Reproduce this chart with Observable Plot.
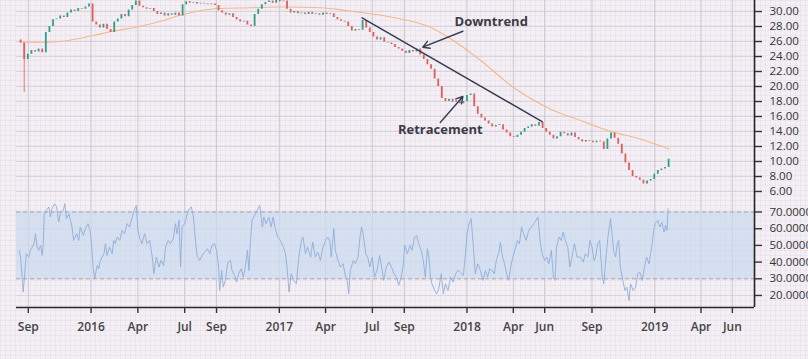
<!DOCTYPE html>
<html><head><meta charset="utf-8">
<script src="https://cdn.jsdelivr.net/npm/d3@7"></script>
<script src="https://cdn.jsdelivr.net/npm/@observablehq/plot@0.6"></script>
<style>
body{margin:0;}
#wrap{position:relative;width:808px;height:359px;overflow:hidden;background-color:#f3eff4;
background-image:linear-gradient(to right, rgba(110,90,120,0.05) 1px, transparent 1px),linear-gradient(to bottom, rgba(110,90,120,0.05) 1px, transparent 1px);
background-size:5px 5px;font-family:"Open Sans",sans-serif;}
#price,#rsi{position:absolute;left:0;}
#price{top:0;} #rsi{top:200px;}
</style></head>
<body><div id="wrap"><div id="price"></div><div id="rsi"></div></div>
<script>
// ---------- data ----------
const xStart = "2015-08-09", xEnd = "2019-07-14";
const tickDates = ["2015-09-01","2016-01-01","2016-04-01","2016-07-01","2016-09-01","2017-01-01","2017-04-01","2017-07-01","2017-09-01","2018-01-01","2018-04-01","2018-06-01","2018-09-01","2019-01-01","2019-04-01","2019-06-01"];
const tickLabels = ["Sep","2016","Apr","Jul","Sep","2017","Apr","Jul","Sep","2018","Apr","Jun","Sep","2019","Apr","Jun"];
const priceTicks = [6,8,10,12,14,16,18,20,22,24,26,28,30,32];
const rsiTicks = [20,30,40,50,60,70];

// weekly closes, starting week of 2015-08-17
const priceStart = "2015-08-17";
const priceFirstOpen = 26.2;
const priceCloses = [
25.8,23.6,24.3,24.8,24.6,25.0,24.5,27.2,28.0,28.9,29.0,29.4,29.2,29.8,30.2,30.0,30.4,30.3,30.6,31.0,
28.6,28.2,27.8,28.3,27.6,27.2,28.6,29.0,29.6,29.3,30.2,30.8,31.4,30.7,30.5,30.3,30.4,30.0,29.6,29.8,
29.4,29.7,29.5,29.8,29.4,30.9,31.3,31.1,31.2,31.0,31.1,31.0,30.9,31.0,30.8,30.1,29.8,29.5,29.7,29.2,
28.9,28.6,28.7,28.2,28.0,29.6,30.3,30.9,31.2,31.4,31.1,31.5,31.3,31.4,30.3,29.8,30.0,29.7,29.8,29.6,
29.9,29.6,29.7,29.5,29.8,29.6,29.7,29.2,28.9,28.7,28.6,28.0,27.4,27.6,27.5,28.8,27.8,27.2,26.6,26.2,
26.5,25.9,25.8,25.6,25.2,25.0,24.7,24.4,24.8,24.6,25.0,24.2,23.6,22.9,22.3,21.0,20.0,18.4,18.0,18.3,
17.9,18.1,17.7,18.0,18.8,19.0,17.3,16.3,15.8,15.4,15.0,14.6,14.8,14.9,14.2,13.8,13.3,13.2,13.5,13.9,
14.4,14.6,14.9,14.7,15.2,14.4,13.9,13.5,13.0,13.3,13.9,13.7,13.4,13.8,13.2,12.9,12.6,12.8,12.7,12.5,
12.7,12.6,11.6,13.0,13.8,13.1,12.3,11.0,9.8,8.8,8.0,7.8,7.5,7.0,7.4,7.6,8.3,8.8,9.0,9.2,10.3];
const priceWicks = [{date:"2015-08-24", low:19.2, high:25.6}];

// moving average
const maDates = ["2015-08-17","2015-10-04","2015-11-02","2016-01-05","2016-02-07","2016-04-11","2016-05-15","2016-06-22","2016-07-31","2016-09-02","2016-11-06","2017-01-09","2017-03-22","2017-05-14","2017-08-19","2017-10-22","2017-12-06","2018-01-27","2018-04-01","2018-06-06","2018-06-18","2018-08-09","2018-09-04","2018-10-13","2018-11-29","2018-12-30","2019-01-28"];
const maValues = [25.9,25.9,26.0,26.8,27.3,28.1,28.7,29.5,30.1,30.4,30.5,30.6,30.5,30.1,29.1,27.9,26.1,23.5,19.9,17.2,16.8,15.5,14.8,13.9,13.1,12.4,11.7];

// RSI: [days after 2015-08-09, value]
const rsiBase = "2015-08-09";
const rsiPoints = [[5,47],[8,43],[11,31],[13,22],[16,33],[19,45],[24,43],[27,47],[34,51],[37,57],[40,49],[43,47],[47,50],[50,44],[52,51],[54,68],[58,71],[63,73],[66,67],[69,72],[74,75],[78,73],[82,64],[86,70],[91,71],[94,75],[97,66],[102,69],[105,65],[108,61],[111,53],[117,57],[121,53],[124,61],[130,56],[134,60],[139,63],[143,59],[146,51],[149,37],[152,30],[157,38],[160,36],[163,41],[170,45],[173,51],[176,44],[181,49],[186,45],[189,53],[192,51],[196,55],[201,53],[205,59],[210,57],[215,63],[220,61],[225,67],[229,71],[233,74],[236,59],[240,54],[244,51],[249,57],[254,51],[259,53],[264,43],[267,33],[272,43],[277,37],[281,41],[286,38],[290,49],[295,53],[299,51],[305,54],[309,63],[312,57],[316,65],[319,37],[322,61],[327,63],[332,69],[336,72],[340,73],[344,67],[348,53],[351,44],[356,41],[361,44],[366,46],[371,48],[376,45],[380,50],[385,51],[389,47],[393,37],[395,23],[399,35],[402,25],[406,29],[411,40],[416,41],[419,35],[424,32],[428,28],[432,33],[437,36],[441,31],[445,37],[449,47],[452,35],[455,53],[458,65],[463,68],[468,71],[473,74],[478,61],[481,67],[485,63],[491,67],[495,61],[499,67],[504,59],[508,55],[513,53],[519,49],[523,45],[526,37],[530,22],[534,33],[539,29],[544,27],[549,43],[554,53],[557,55],[562,45],[566,49],[572,43],[576,52],[581,43],[586,46],[591,41],[596,49],[601,53],[605,55],[609,53],[612,43],[617,60],[620,47],[625,41],[630,37],[635,39],[640,31],[643,29],[646,21],[649,35],[655,41],[659,39],[664,43],[668,55],[671,61],[674,57],[679,45],[683,43],[687,37],[692,43],[696,31],[701,35],[706,44],[710,37],[714,29],[719,37],[724,40],[729,37],[734,33],[739,31],[743,26],[748,31],[752,38],[755,50],[760,45],[765,50],[769,47],[774,55],[778,56],[782,51],[787,47],[791,41],[795,31],[799,48],[802,43],[805,31],[808,27],[813,23],[817,21],[821,24],[826,33],[830,21],[834,27],[839,23],[844,31],[849,28],[854,33],[858,35],[863,34],[869,32],[873,45],[876,57],[880,63],[884,66],[888,51],[892,33],[897,39],[902,35],[907,29],[912,35],[916,31],[920,36],[925,35],[929,33],[933,41],[938,46],[941,52],[945,43],[949,39],[953,33],[957,29],[961,37],[965,43],[969,47],[974,53],[978,51],[982,61],[986,57],[991,53],[996,59],[1001,61],[1006,63],[1010,65],[1014,67],[1018,53],[1022,45],[1027,41],[1031,43],[1035,39],[1040,47],[1044,31],[1047,29],[1050,49],[1055,55],[1059,53],[1063,58],[1067,53],[1072,49],[1076,37],[1080,43],[1085,51],[1090,43],[1097,43],[1102,40],[1106,45],[1111,43],[1115,53],[1119,49],[1123,41],[1126,43],[1130,51],[1134,53],[1139,31],[1142,27],[1145,39],[1150,55],[1155,66],[1158,57],[1161,47],[1165,43],[1168,51],[1171,53],[1174,37],[1179,29],[1183,23],[1187,25],[1191,17],[1194,27],[1199,23],[1204,25],[1208,33],[1212,34],[1217,29],[1221,37],[1225,43],[1230,39],[1233,45],[1236,51],[1239,59],[1242,63],[1247,65],[1251,61],[1255,64],[1259,58],[1262,62],[1265,59],[1267,72]];

// annotations
const trendLine = [{date:"2017-06-11", value:29.16},{date:"2018-05-27", value:15.33}];
const arrowData = [
  {from:"2017-12-24", fromValue:27.37, to:"2017-10-07", toValue:25.24},
  {from:"2017-11-10", fromValue:15.2, to:"2017-12-24", toValue:18.67}
];
const labelData = [
  {date:"2018-02-17", value:28.57, text:"Downtrend"},
  {date:"2017-11-10", value:14.23, text:"Retracement"}
];

// ---------- build ----------
const D = s => new Date(s + "T00:00:00Z");
const xDomain = [D(xStart), D(xEnd)];
const ticksX = tickDates.map(D);
const labelMap = new Map(ticksX.map((d,i)=>[+d, tickLabels[i]]));
const weeks = priceCloses.map((c,i)=>({
  date: d3.utcDay.offset(D(priceStart), 7*i),
  open: i ? priceCloses[i-1] : priceFirstOpen,
  close: c
}));
const ma = maDates.map((d,i)=>({date:D(d), value:maValues[i]}));
const rsi = rsiPoints.map(([d,v])=>({date:d3.utcDay.offset(D(rsiBase), d), value:v}));
const green = "#2f9e86", red = "#dc5f5c";
const font = "'Open Sans', sans-serif";
const priceDomain = [4.8, 31.47];
const rsiDomain = [12.8, 76.9];

const price = Plot.plot({
  width: 808, height: 200,
  marginLeft: 16, marginRight: 54, marginTop: 0, marginBottom: 0,
  style: {background: "transparent", overflow: "visible", fontFamily: font},
  x: {type: "utc", domain: xDomain, axis: null},
  y: {domain: priceDomain, axis: null},
  marks: [
    Plot.gridY(priceTicks.filter(t => t <= 30), {stroke: "#dad4dd", strokeOpacity: 1}),
    Plot.gridX(ticksX, {stroke: "#cdc7d0", strokeOpacity: 1}),
    Plot.line(ma, {x: "date", y: "value", stroke: "#f3b88c", strokeWidth: 1.1, curve: "monotone-x"}),
    Plot.ruleX(priceWicks, {x: d => D(d.date), y1: "low", y2: "high", stroke: red, strokeWidth: 0.8}),
    Plot.ruleX(weeks.filter(d => d.close >= d.open), {x: "date", y1: "open", y2: "close", stroke: green, strokeWidth: 1.8, clip: true}),
    Plot.ruleX(weeks.filter(d => d.close < d.open), {x: "date", y1: "open", y2: "close", stroke: red, strokeWidth: 1.8, clip: true}),
    Plot.line(trendLine, {x: d => D(d.date), y: "value", stroke: "#353d55", strokeWidth: 1.5}),
    Plot.arrow(arrowData, {x1: d => D(d.from), y1: "fromValue", x2: d => D(d.to), y2: "toValue", stroke: "#353d55", strokeWidth: 1.4, headLength: 8}),
    Plot.text(labelData, {x: d => D(d.date), y: "value", text: "text", fontSize: 13, fontWeight: 700, fill: "#3b3b47", fontFamily: font}),
    Plot.ruleX([xDomain[1]], {stroke: "#262626", strokeWidth: 1.6}),
    Plot.axisY(priceTicks, {anchor: "right", tickFormat: d3.format(".2f"), tickSize: 7, tickPadding: 8, fontSize: 11.5, color: "#333", strokeWidth: 1.4, fontFamily: font})
  ]
});
document.getElementById("price").appendChild(price);

const rsiChart = Plot.plot({
  width: 808, height: 159,
  marginLeft: 16, marginRight: 54, marginTop: 0, marginBottom: 52,
  style: {background: "transparent", overflow: "visible", fontFamily: font},
  x: {type: "utc", domain: xDomain, axis: null},
  y: {domain: rsiDomain, axis: null},
  marks: [
    Plot.gridY(rsiTicks, {stroke: "#dad4dd", strokeOpacity: 1}),
    Plot.gridX(ticksX, {stroke: "#cdc7d0", strokeOpacity: 1}),
    Plot.rect([{y1: 30, y2: 70}], {x1: xDomain[0], x2: xDomain[1], y1: "y1", y2: "y2", fill: "#c9daf0", fillOpacity: 0.7}),
    Plot.ruleY([30, 70], {stroke: "#a9a7b0", strokeDasharray: "4,3", strokeWidth: 1}),
    Plot.line(rsi, {x: "date", y: "value", stroke: "#8eaed8", strokeWidth: 0.9}),
    Plot.ruleX([xDomain[1]], {stroke: "#262626", strokeWidth: 1.6}),
    Plot.ruleY([rsiDomain[0]], {stroke: "#262626", strokeWidth: 1.6}),
    Plot.axisY(rsiTicks, {anchor: "right", tickFormat: d3.format(".4f"), tickSize: 7, tickPadding: 8, fontSize: 11.5, color: "#333", strokeWidth: 1.4, fontFamily: font}),
    Plot.axisX(ticksX, {anchor: "bottom", tickFormat: d => labelMap.get(+d), tickSize: 6, tickPadding: 9, fontSize: 12, fontWeight: 600, color: "#333", fill: "#444", strokeWidth: 1.4, fontFamily: font})
  ]
});
document.getElementById("rsi").appendChild(rsiChart);
</script>
</body></html>
